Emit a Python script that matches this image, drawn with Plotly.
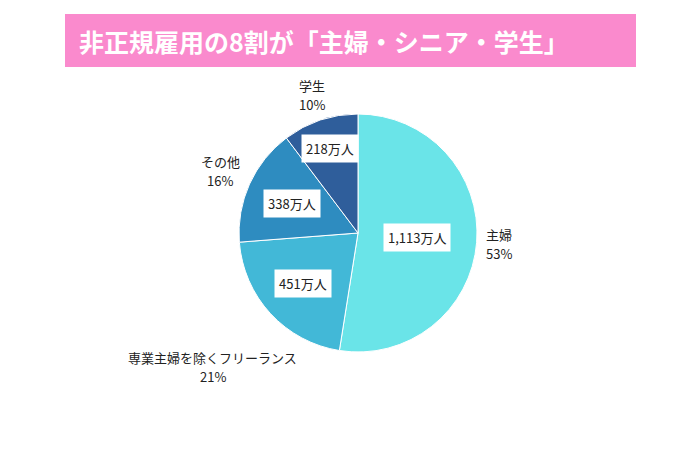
import math
import plotly.graph_objects as go

# ---- data ----
categories = ["主婦", "専業主婦を除くフリーランス", "その他", "学生"]
values = [1113, 451, 338, 218]
value_labels = ["1,113万人", "451万人", "338万人", "218万人"]
percent_labels = ["53%", "21%", "16%", "10%"]
title_text = "非正規雇用の8割が「主婦・シニア・学生」"

# ---- style ----
colors = ["#6AE4E8", "#42B8D7", "#2E8CC0", "#2F5E9B"]
W, H = 700, 450
CX, CY, R = 358, 233, 119          # pie centre / radius in pixels
inner_factor = [0.50, 0.63, 0.61, 0.75]
outer_factor = [1.19, 1.66, 1.27, 1.22]
LINE_GAP = 19                       # px between the two lines of outer labels
FONT = "Noto Sans CJK JP"

fig = go.Figure()
fig.add_trace(go.Pie(
    labels=categories, values=values, sort=False, direction="clockwise",
    rotation=0, textinfo="none", hoverinfo="label+value+percent",
    marker=dict(colors=colors, line=dict(color="white", width=1)),
    domain=dict(x=[(CX - R) / W, (CX + R) / W],
                y=[1 - (CY + R) / H, 1 - (CY - R) / H]),
    showlegend=False,
))

total = sum(values)
annotations = []
cum = 0
for i, v in enumerate(values):
    mid = (cum + v / 2) / total * 2 * math.pi
    cum += v
    dx, dy = math.sin(mid), -math.cos(mid)
    # inner value label
    ix = CX + dx * R * inner_factor[i]
    iy = CY + dy * R * inner_factor[i]
    annotations.append(dict(
        x=ix / W, y=1 - iy / H, xref="paper", yref="paper",
        text=value_labels[i], showarrow=False,
        font=dict(family=FONT, size=13, color="#222"),
        bgcolor="white", borderpad=4, xanchor="center", yanchor="middle"))
    # outer name / percent label (two lines)
    ox = CX + dx * R * outer_factor[i]
    oy = CY + dy * R * outer_factor[i]
    for txt, off in ((categories[i], -LINE_GAP / 2), (percent_labels[i], LINE_GAP / 2)):
        annotations.append(dict(
            x=ox / W, y=1 - (oy + off) / H, xref="paper", yref="paper",
            text=txt, showarrow=False,
            font=dict(family=FONT, size=13, color="#222"),
            xanchor="center", yanchor="middle"))

# title text
annotations.append(dict(
    x=77 / W, y=1 - 41 / H, xref="paper", yref="paper",
    text=f"<b>{title_text}</b>", showarrow=False,
    font=dict(family=FONT, size=25, color="white"),
    xanchor="left", yanchor="middle"))

fig.update_layout(
    width=W, height=H,
    margin=dict(l=0, r=0, t=0, b=0),
    paper_bgcolor="white", plot_bgcolor="white",
    annotations=annotations,
    shapes=[dict(type="rect", xref="paper", yref="paper",
                 x0=65 / W, x1=636 / W, y0=1 - 67 / H, y1=1 - 14 / H,
                 fillcolor="#FA8ACD", line=dict(width=0), layer="below")],
)

fig.write_html("out.html")
